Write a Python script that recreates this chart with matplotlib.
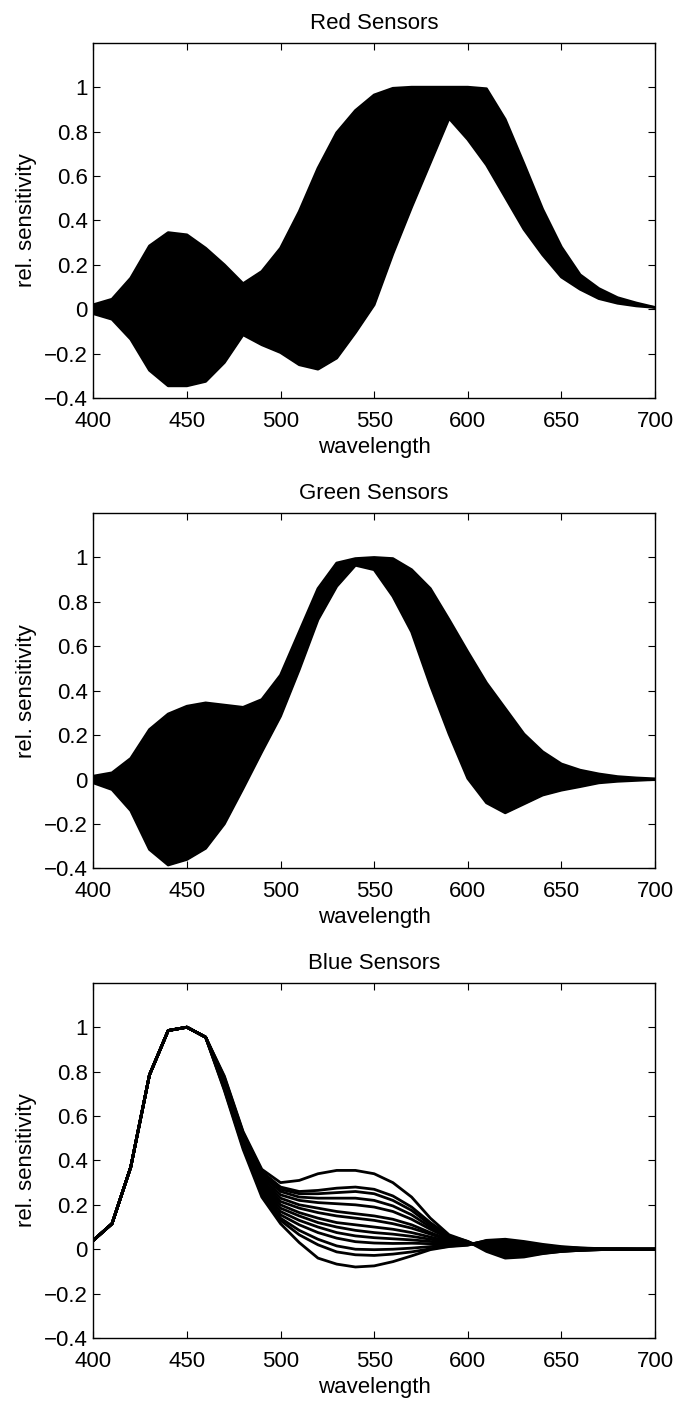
import matplotlib
matplotlib.use("Agg")
import matplotlib.pyplot as plt
import numpy as np

plt.rcParams['font.family'] = ['Liberation Sans', 'DejaVu Sans']

wavelength = list(range(400, 701, 10))

# red sensors: upper / lower bound of the family of curves
red_upper = [0.02, 0.045, 0.14, 0.285, 0.345, 0.335, 0.275, 0.2, 0.115, 0.17,
             0.275, 0.44, 0.635, 0.795, 0.895, 0.965, 0.995, 1.0, 1.0, 1.0,
             1.0, 0.993, 0.855, 0.655, 0.45, 0.28, 0.155, 0.093, 0.052, 0.028, 0.008]
red_lower = [-0.02, -0.045, -0.135, -0.275, -0.345, -0.345, -0.325, -0.24, -0.115, -0.16,
             -0.195, -0.25, -0.27, -0.22, -0.105, 0.02, 0.25, 0.46, 0.66, 0.86,
             0.765, 0.65, 0.505, 0.36, 0.245, 0.145, 0.09, 0.048, 0.027, 0.015, 0.008]

# green sensors
green_upper = [0.015, 0.03, 0.095, 0.225, 0.295, 0.33, 0.345, 0.335, 0.325, 0.36,
               0.47, 0.665, 0.86, 0.975, 0.995, 1.0, 0.995, 0.945, 0.86, 0.72,
               0.575, 0.435, 0.32, 0.205, 0.125, 0.07, 0.042, 0.025, 0.013, 0.007, 0.003]
green_lower = [-0.015, -0.045, -0.14, -0.315, -0.385, -0.36, -0.31, -0.2, -0.04, 0.125,
               0.285, 0.495, 0.72, 0.87, 0.965, 0.945, 0.825, 0.665, 0.425, 0.205,
               0.005, -0.105, -0.15, -0.11, -0.07, -0.048, -0.032, -0.015, -0.008, -0.004, 0.0]

# blue sensors: shared start (400-460) and one tail per curve (470-700)
blue_start = [0.04, 0.115, 0.37, 0.785, 0.985, 1.0, 0.955]
blue_tails = [
    [0.78, 0.53, 0.36, 0.30, 0.31, 0.34, 0.355, 0.355, 0.34, 0.30, 0.235, 0.14, 0.065, 0.035, -0.01, -0.04, -0.035, -0.02, -0.01, -0.005, -0.002, 0, 0, 0],
    [0.775, 0.525, 0.35, 0.28, 0.26, 0.265, 0.275, 0.28, 0.27, 0.24, 0.19, 0.12, 0.06, 0.035, 0.0, -0.03, -0.03, -0.018, -0.01, -0.005, -0.002, 0, 0, 0],
    [0.77, 0.52, 0.34, 0.27, 0.25, 0.25, 0.255, 0.26, 0.25, 0.22, 0.175, 0.11, 0.055, 0.033, 0.0, -0.025, -0.025, -0.015, -0.008, -0.004, -0.002, 0, 0, 0],
    [0.765, 0.515, 0.33, 0.26, 0.235, 0.23, 0.23, 0.23, 0.22, 0.195, 0.155, 0.10, 0.05, 0.03, 0.005, -0.02, -0.02, -0.012, -0.007, -0.003, -0.001, 0, 0, 0],
    [0.76, 0.51, 0.32, 0.245, 0.22, 0.21, 0.205, 0.20, 0.19, 0.17, 0.135, 0.09, 0.048, 0.03, 0.008, -0.012, -0.015, -0.01, -0.005, -0.003, -0.001, 0, 0, 0],
    [0.755, 0.505, 0.31, 0.23, 0.20, 0.185, 0.17, 0.16, 0.15, 0.135, 0.11, 0.075, 0.042, 0.028, 0.012, -0.005, -0.008, -0.006, -0.003, -0.002, -0.001, 0, 0, 0],
    [0.75, 0.50, 0.30, 0.215, 0.185, 0.165, 0.15, 0.14, 0.13, 0.115, 0.095, 0.068, 0.04, 0.028, 0.015, 0.0, -0.004, -0.003, -0.002, -0.001, 0, 0, 0, 0],
    [0.745, 0.495, 0.29, 0.20, 0.165, 0.14, 0.12, 0.11, 0.10, 0.09, 0.075, 0.055, 0.035, 0.027, 0.02, 0.008, 0.002, 0.0, 0, 0, 0, 0, 0, 0],
    [0.74, 0.49, 0.28, 0.185, 0.15, 0.12, 0.10, 0.085, 0.075, 0.068, 0.058, 0.045, 0.032, 0.026, 0.023, 0.015, 0.008, 0.004, 0.002, 0.001, 0, 0, 0, 0],
    [0.735, 0.485, 0.27, 0.17, 0.13, 0.10, 0.075, 0.06, 0.052, 0.047, 0.042, 0.035, 0.028, 0.025, 0.027, 0.022, 0.014, 0.008, 0.004, 0.002, 0.001, 0, 0, 0],
    [0.73, 0.48, 0.26, 0.155, 0.11, 0.075, 0.05, 0.034, 0.028, 0.026, 0.027, 0.025, 0.024, 0.024, 0.03, 0.028, 0.02, 0.012, 0.006, 0.003, 0.001, 0, 0, 0],
    [0.725, 0.47, 0.25, 0.14, 0.085, 0.045, 0.015, 0.0, -0.002, 0.0, 0.005, 0.012, 0.018, 0.022, 0.034, 0.035, 0.026, 0.015, 0.008, 0.004, 0.002, 0.001, 0, 0],
    [0.72, 0.46, 0.245, 0.13, 0.065, 0.02, -0.012, -0.025, -0.028, -0.022, -0.012, 0.002, 0.014, 0.02, 0.038, 0.04, 0.03, 0.018, 0.009, 0.005, 0.002, 0.001, 0, 0],
    [0.715, 0.45, 0.235, 0.115, 0.03, -0.04, -0.067, -0.08, -0.075, -0.056, -0.03, -0.002, 0.012, 0.018, 0.04, 0.045, 0.035, 0.022, 0.012, 0.006, 0.003, 0.001, 0, 0],
]

titles = ["Red Sensors", "Green Sensors", "Blue Sensors"]
xticks = [400, 450, 500, 550, 600, 650, 700]
yticks = [-0.4, -0.2, 0, 0.2, 0.4, 0.6, 0.8, 1]
ytick_labels = ["\u22120.4", "\u22120.2", "0", "0.2", "0.4", "0.6", "0.8", "1"]

fig = plt.figure(figsize=(6.78, 14.03), dpi=100)
bottoms = [0.7163, 0.3811, 0.0463]
axes = [fig.add_axes([0.1376, b, 0.8285, 0.2532]) for b in bottoms]

lw = 2.0
# red
ax = axes[0]
ax.fill_between(wavelength, red_lower, red_upper, color='k', lw=0)
ax.plot(wavelength, red_upper, color='k', lw=lw)
ax.plot(wavelength, red_lower, color='k', lw=lw)
# green
ax = axes[1]
ax.fill_between(wavelength, green_lower, green_upper, color='k', lw=0)
ax.plot(wavelength, green_upper, color='k', lw=lw)
ax.plot(wavelength, green_lower, color='k', lw=lw)
# blue
ax = axes[2]
for tail in blue_tails:
    ax.plot(wavelength, blue_start + tail, color='k', lw=lw)

for ax, t in zip(axes, titles):
    ax.set_xlim(400, 700)
    ax.set_ylim(-0.4, 1.2)
    ax.set_xticks(xticks)
    ax.set_xticklabels([str(v) for v in xticks])
    ax.set_yticks(yticks)
    ax.set_yticklabels(ytick_labels)
    ax.tick_params(direction='in', length=5, width=0.8, labelsize=16,
                   top=True, right=True)
    ax.tick_params(axis='x', pad=9)
    ax.tick_params(axis='y', pad=4)
    for s in ax.spines.values():
        s.set_linewidth(1.0)
    ax.set_title(t, fontsize=16, pad=10)
    ax.set_xlabel("wavelength", fontsize=16, labelpad=4)
    ax.set_ylabel("rel. sensitivity", fontsize=16, labelpad=5)

fig.savefig("out.png", dpi=100)
